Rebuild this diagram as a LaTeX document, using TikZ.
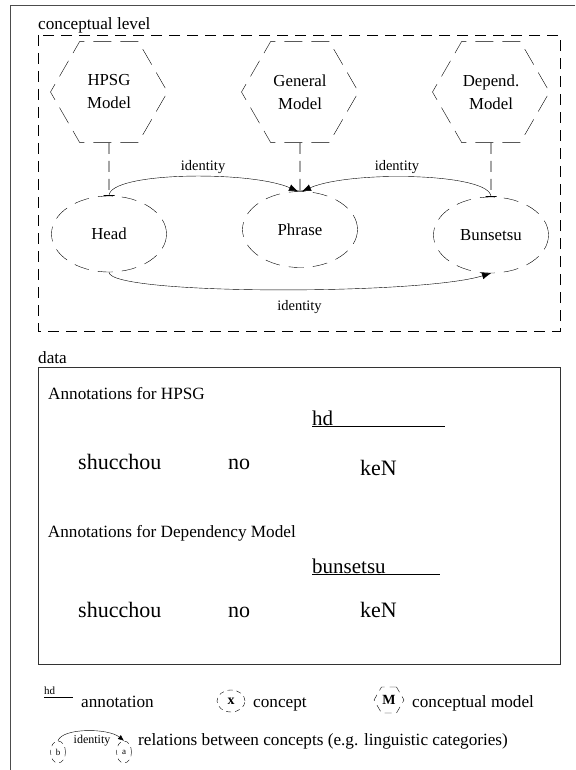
\documentclass[tikz,border=0pt]{standalone}
\usepackage{fontspec}
\setmainfont{Liberation Serif}
\usetikzlibrary{shapes.geometric,arrows.meta}
\tikzset{
    concept/.style={draw,ellipse,dash pattern=on 15pt off 9pt,minimum width=115pt,minimum height=76pt,font=\fontsize{16.8}{20}\selectfont},
    model/.style={draw,regular polygon,regular polygon sides=6,dash pattern=on 18pt off 9pt,minimum size=117pt,inner sep=0pt,align=center,font=\fontsize{16.8}{23}\selectfont},
    instance/.style={-{Bar[width=11pt]},line width=.7pt,dash pattern=on 11pt off 7pt},
    relation/.style={-{Latex[length=9pt,width=7pt]}},
    rellabel/.style={font=\fontsize{14.5}{16}\selectfont},
    heading/.style={anchor=base west,inner sep=0pt,font=\fontsize{17.2}{20}\selectfont},
    word/.style={anchor=base west,inner sep=0pt,font=\fontsize{22}{26}\selectfont},
    anno/.style={anchor=base west,inner sep=0pt,font=\fontsize{21}{24}\selectfont},
    keyconcept/.style={draw,ellipse,dash pattern=on 5pt off 4pt,inner sep=0pt}
}
\begin{document}
\begin{tikzpicture}[x=1pt,y=1pt]
    \useasboundingbox (0,0) rectangle (575,-770);
    \draw[black!70] (575,-5) -- (10,-5) -- (10,-770);
    % conceptual level
    \node[heading] (conclabel) at (38,-30) {conceptual level};
    \draw[dash pattern=on 11pt off 7pt] (38,-35) rectangle (560,-331);
    \node[model] (hpsg) at (109,-92) {HPSG\\Model};
    \node[model] (general) at (300,-92) {General\\Model};
    \node[model] (depend) at (491,-92) {Depend.\\Model};
    \node[concept] (head) at (109,-234) {Head};
    \node[concept] (phrase) at (300,-229.5) {Phrase};
    \node[concept] (bunsetsu) at (491,-235) {Bunsetsu};
    \draw[instance] (hpsg.south) -- (head.north);
    \draw[instance] (general.south) -- (phrase.north);
    \draw[instance] (depend.south) -- (bunsetsu.north);
    \draw[relation] (head.north) .. controls +(0,24) and +(-48,21) .. (phrase.93)
        node[rellabel,pos=.57,above] {identity};
    \draw[relation] (bunsetsu.north) .. controls +(0,24) and +(48,21) .. (phrase.87)
        node[rellabel,pos=.57,above] {identity};
    \draw[relation] (head.south) .. controls +(0,-23) and +(-71,-22) .. (bunsetsu.south)
        node[rellabel,pos=.55,below=7pt] {identity};
    % data
    \node[heading] (datalabel) at (38,-363) {data};
    \draw[black!80] (38,-367) rectangle (560,-664);
    \node[heading] (hpsgdata) at (48,-399) {Annotations for HPSG};
    \node[anno] (hd) at (312,-425) {hd};
    \draw (hd.base west) ++(0,-1.5) -- ++(133,0);
    \node[heading] (depdata) at (47.7,-537) {Annotations for Dependency Model};
    \node[anno] (bun) at (312,-573) {bunsetsu};
    \draw (bun.base west) ++(0,-1.5) -- ++(128,0);
    \foreach \y/\n in {469/1,617/2}
    {
        \node[word] (shucchou\n) at (78,-\y) {shucchou};
        \node[word] (no\n) at (228,-\y) {no};
    }
    \node[word] (ken1) at (360,-475) {keN};
    \node[word] (ken2) at (360,-617) {keN};
    % legend
    \node[anchor=base west,inner sep=0pt,font=\fontsize{11}{12}\selectfont] (hdkey) at (44,-694) {hd};
    \draw (hdkey.base west) ++(0,-3) -- ++(29,0);
    \node[heading] (annokey) at (81,-707) {annotation};
    \node[keyconcept,minimum width=28pt,minimum height=22pt,font=\bfseries\fontsize{14}{15}\selectfont] (xkey) at (231,-701) {x};
    \node[heading] (conckey) at (253,-707) {concept};
    \node[draw,regular polygon,regular polygon sides=6,dash pattern=on 7pt off 5pt,minimum size=30pt,inner sep=0pt,font=\bfseries\fontsize{14}{15}\selectfont] (mkey) at (389,-700) {M};
    \node[heading] (modkey) at (412,-707) {conceptual model};
    \node[keyconcept,minimum width=15pt,minimum height=22pt,font=\fontsize{9}{10}\selectfont] (bkey) at (58,-752) {b};
    \node[keyconcept,minimum width=15pt,minimum height=22pt,font=\fontsize{9}{10}\selectfont] (akey) at (124,-752) {a};
    \draw[-{Latex[length=6pt,width=5pt]}] (bkey.north) .. controls +(4,13) and +(-16,13) .. (akey.north);
    \node[font=\fontsize{12}{13}\selectfont] (idkey) at (92,-741) {identity};
    \node[heading] (relkey) at (138,-745) {relations between concepts (e.g. linguistic categories)};
\end{tikzpicture}
\end{document}
